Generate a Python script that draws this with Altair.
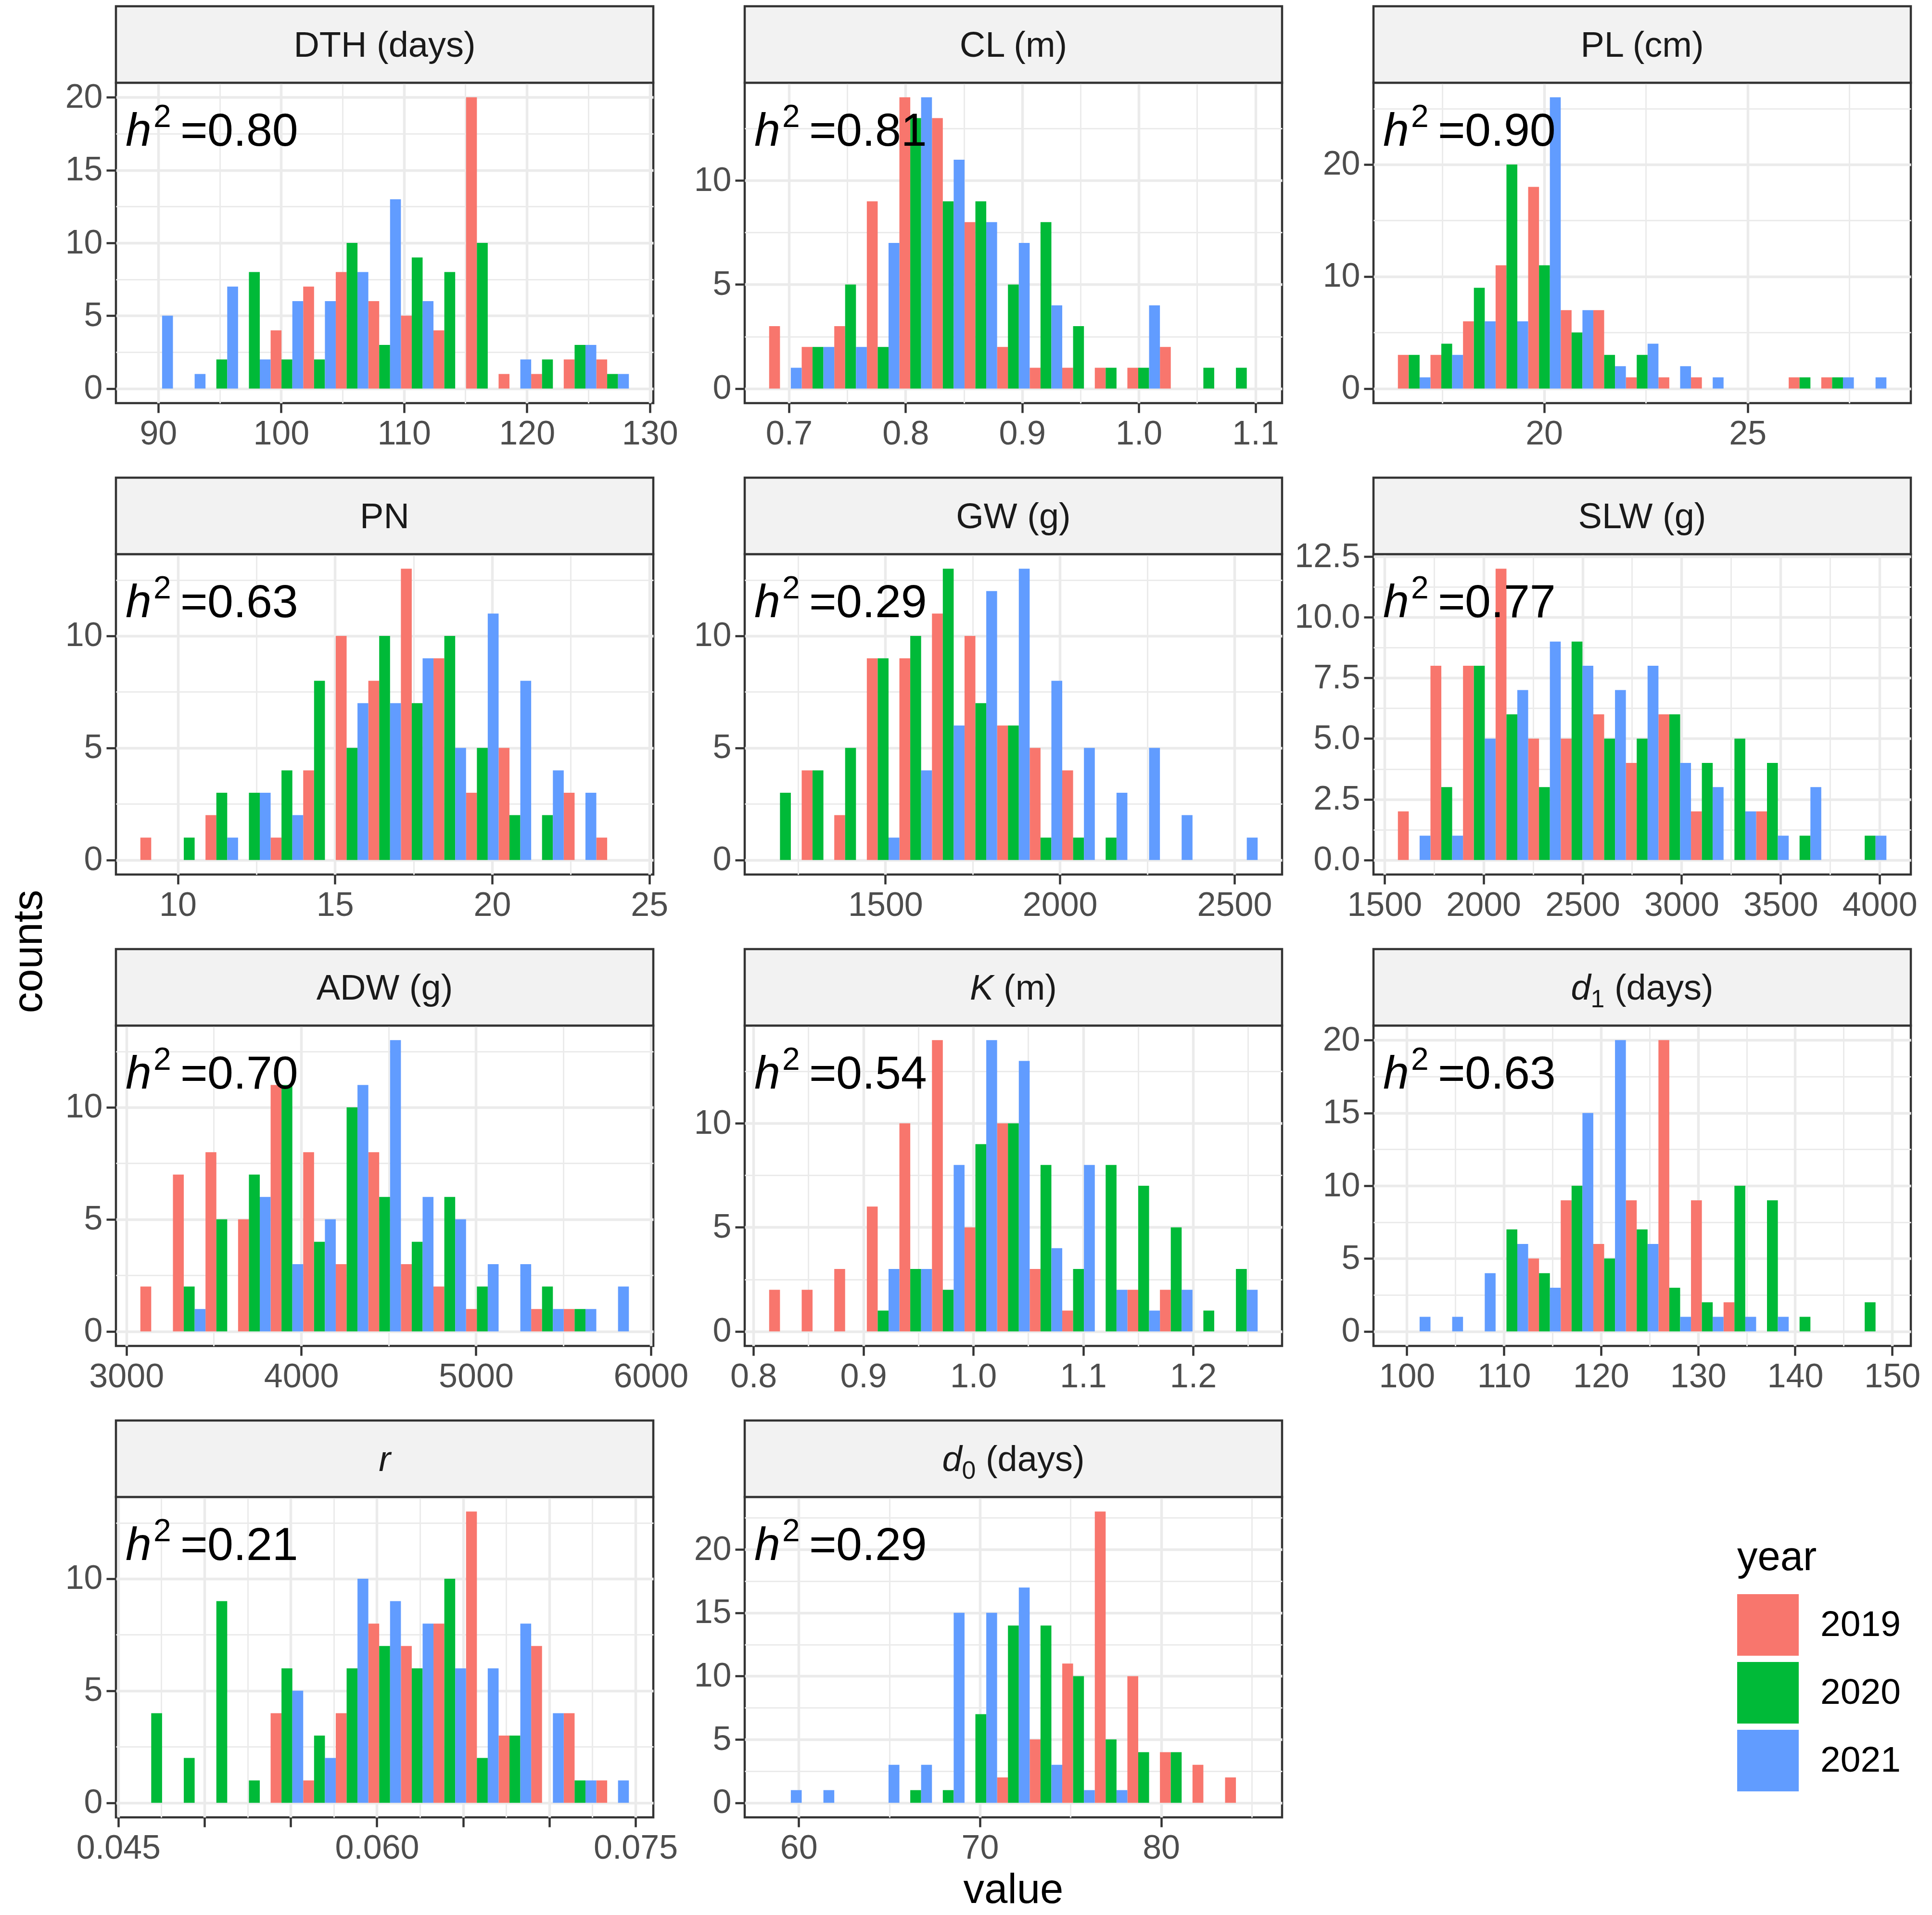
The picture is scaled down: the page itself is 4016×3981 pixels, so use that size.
import altair as alt
import pandas as pd

FONT = "Liberation Sans"

YEARS = ["2019", "2020", "2021"]
YEAR_COLORS = ["#F8766D", "#00BA38", "#619CFF"]

# heritability shown in each panel
H2 = ["0.80", "0.81", "0.90", "0.63", "0.29", "0.77", "0.70", "0.54", "0.63", "0.21", "0.29"]

# strip titles as (text, style) segments: n = normal, i = italic, s = subscript
STRIPS = [
    [("DTH (days)", "n")],
    [("CL (m)", "n")],
    [("PL (cm)", "n")],
    [("PN", "n")],
    [("GW (g)", "n")],
    [("SLW (g)", "n")],
    [("ADW (g)", "n")],
    [("K", "i"), (" (m)", "n")],
    [("d", "i"), ("1", "s"), (" (days)", "n")],
    [("r", "i")],
    [("d", "i"), ("0", "s"), (" (days)", "n")],
]

# left edge of the first bin and bin width (15 bins per panel)
BIN_START = [88.55, 0.683, 16.41, 8.81, 1167, 1568, 3080, 0.8143, 99.08, 0.04628, 58.37]
BIN_WIDTH = [2.65, 0.02793, 0.8, 1.036, 93.3, 164.4, 186.3, 0.02963, 3.355, 0.001889, 1.797]

COUNTS_2019 = [
    [0, 0, 0, 0, 4, 7, 8, 6, 5, 4, 20, 1, 1, 2, 2],
    [3, 2, 3, 9, 14, 13, 8, 2, 1, 1, 1, 1, 2, 0, 0],
    [3, 3, 6, 11, 18, 7, 7, 1, 1, 1, 0, 0, 1, 1, 0],
    [1, 0, 2, 0, 1, 4, 10, 8, 13, 9, 3, 5, 0, 3, 1],
    [0, 4, 2, 9, 9, 11, 10, 6, 5, 4, 0, 0, 0, 0, 0],
    [2, 8, 8, 12, 5, 5, 6, 4, 6, 2, 0, 2, 0, 0, 0],
    [2, 7, 8, 5, 11, 8, 3, 8, 3, 2, 1, 0, 1, 1, 0],
    [2, 2, 3, 6, 10, 14, 5, 10, 3, 1, 0, 2, 2, 0, 0],
    [0, 0, 0, 0, 5, 9, 6, 9, 20, 9, 2, 0, 0, 0, 0],
    [0, 0, 0, 0, 4, 1, 4, 8, 7, 8, 13, 3, 7, 4, 1],
    [0, 0, 0, 0, 0, 0, 0, 2, 5, 11, 23, 10, 4, 3, 2],
]
COUNTS_2020 = [
    [0, 0, 2, 8, 2, 2, 10, 3, 9, 8, 10, 0, 2, 3, 1],
    [0, 2, 5, 2, 13, 9, 9, 5, 8, 3, 1, 1, 0, 1, 1],
    [3, 4, 9, 20, 11, 5, 3, 3, 0, 0, 0, 0, 1, 1, 0],
    [0, 1, 3, 3, 4, 8, 5, 10, 7, 10, 5, 2, 2, 0, 0],
    [3, 4, 5, 9, 10, 13, 7, 6, 1, 1, 1, 0, 0, 0, 0],
    [0, 3, 8, 6, 3, 9, 5, 5, 6, 4, 5, 4, 1, 0, 1],
    [0, 2, 5, 7, 11, 4, 10, 6, 4, 6, 2, 0, 2, 1, 0],
    [0, 0, 0, 1, 3, 2, 9, 10, 8, 3, 8, 7, 5, 1, 3],
    [0, 0, 0, 7, 4, 10, 5, 7, 3, 2, 10, 9, 1, 0, 2],
    [4, 2, 9, 1, 6, 3, 6, 7, 6, 10, 2, 3, 0, 1, 0],
    [0, 0, 0, 0, 1, 1, 7, 14, 14, 10, 5, 4, 4, 0, 0],
]
COUNTS_2021 = [
    [5, 1, 7, 2, 6, 6, 8, 13, 6, 0, 0, 2, 0, 3, 1],
    [1, 2, 2, 7, 14, 11, 8, 7, 4, 0, 0, 4, 0, 0, 0],
    [1, 3, 6, 6, 26, 7, 2, 4, 2, 1, 0, 0, 0, 1, 1],
    [0, 0, 1, 3, 2, 0, 7, 7, 9, 5, 11, 8, 4, 3, 0],
    [0, 0, 0, 1, 4, 6, 12, 13, 8, 5, 3, 5, 2, 0, 1],
    [1, 1, 5, 7, 9, 8, 7, 8, 4, 3, 2, 1, 3, 0, 1],
    [0, 1, 0, 6, 3, 5, 11, 13, 6, 5, 3, 3, 1, 1, 2],
    [0, 0, 0, 3, 3, 8, 14, 13, 4, 8, 2, 1, 2, 0, 2],
    [1, 1, 4, 6, 3, 15, 20, 6, 1, 1, 1, 1, 0, 0, 0],
    [0, 0, 0, 0, 5, 2, 10, 9, 8, 6, 6, 8, 4, 1, 1],
    [1, 1, 0, 3, 3, 15, 15, 17, 3, 1, 1, 0, 0, 0, 0],
]

X_TICKS = [
    [90, 100, 110, 120, 130],
    [0.7, 0.8, 0.9, 1.0, 1.1],
    [20, 25],
    [10, 15, 20, 25],
    [1500, 2000, 2500],
    [1500, 2000, 2500, 3000, 3500, 4000],
    [3000, 4000, 5000, 6000],
    [0.8, 0.9, 1.0, 1.1, 1.2],
    [100, 110, 120, 130, 140, 150],
    [0.045, 0.050, 0.055, 0.060, 0.065, 0.070, 0.075],
    [60, 70, 80],
]
X_LABELED = [None, None, None, None, None, None, None, None, None,
             ["0.045", "0.060", "0.075"], None]
X_FORMAT = ["d", ".1f", "d", "d", "d", "d", "d", ".1f", "d", ".3f", "d"]

Y_TICKS = [
    [0, 5, 10, 15, 20],
    [0, 5, 10],
    [0, 10, 20],
    [0, 5, 10],
    [0, 5, 10],
    [0, 2.5, 5, 7.5, 10, 12.5],
    [0, 5, 10],
    [0, 5, 10],
    [0, 5, 10, 15, 20],
    [0, 5, 10],
    [0, 5, 10, 15, 20],
]
Y_FORMAT = ["d", "d", "d", "d", "d", ".1f", "d", "d", "d", "d", "d"]

# ---------------------------------------------------------------- layout
W, H, SH = 1117, 666, 159
COL_GAP, ROW_GAP = 190, 314
TICK_FS, STRIP_FS, ANN_FS, TITLE_FS = 70, 74, 97, 87

CHAR_W = {' ': 278, '(': 333, ')': 333, 'a': 556, 'd': 556, 'y': 500, 's': 500,
          'm': 833, 'K': 667, 'r': 333, '0': 556, '1': 556}

ONE = pd.DataFrame({"k": [0]})


def minor_breaks(major, lo, hi):
    step = major[1] - major[0]
    cand = [major[0] - step / 2] + [(a + b) / 2 for a, b in zip(major[:-1], major[1:])] + [major[-1] + step / 2]
    return [round(v, 7) for v in cand if lo <= v <= hi]


def txt(s, x, y, size, style="normal", align="left", baseline="alphabetic",
        color="black", angle=0):
    return alt.Chart(ONE).mark_text(
        text=s, align=align, baseline=baseline, fontSize=size, fontStyle=style,
        font=FONT, color=color, angle=angle
    ).encode(x=alt.value(x), y=alt.value(y))


def seg_w(s, size):
    return sum(CHAR_W.get(ch, 556) for ch in s) / 1000.0 * size


def panel(i):
    series = [COUNTS_2019[i], COUNTS_2020[i], COUNTS_2021[i]]
    bw = BIN_WIDTH[i]
    rows = []
    for k, (yr, cnt) in enumerate(zip(YEARS, series)):
        for b, c in enumerate(cnt):
            if c > 0:
                lo = BIN_START[i] + b * bw + k * bw / 3
                rows.append({"lo": lo, "hi": lo + bw / 3, "count": c, "year": yr})
    df = pd.DataFrame(rows)

    x0 = BIN_START[i]
    x1 = x0 + len(series[0]) * bw
    pad = 0.05 * (x1 - x0)
    xdom = [x0 - pad, x1 + pad]
    ymax = max(max(s) for s in series)
    ydom = [-0.05 * ymax, 1.05 * ymax]

    xaxis_kw = dict(values=X_TICKS[i], format=X_FORMAT[i], title=None, grid=True,
                    gridColor="#ebebeb", gridWidth=5.5, labelFlush=False,
                    labelOverlap=False)
    if X_LABELED[i] is not None:
        arr = "[" + ",".join("'%s'" % v for v in X_LABELED[i]) + "]"
        xaxis_kw["labelExpr"] = "indexof(%s, datum.label) >= 0 ? datum.label : ''" % arr

    bars = alt.Chart(df).mark_bar().encode(
        x=alt.X("lo:Q", scale=alt.Scale(domain=xdom, nice=False, zero=False),
                axis=alt.Axis(**xaxis_kw)),
        x2="hi:Q",
        y=alt.Y("count:Q", stack=None,
                scale=alt.Scale(domain=ydom, nice=False, zero=False),
                axis=alt.Axis(values=Y_TICKS[i], format=Y_FORMAT[i], title=None,
                              grid=True, gridColor="#ebebeb", gridWidth=5.5,
                              labelFlush=False, labelOverlap=False)),
        y2=alt.datum(0),
        color=alt.Color(
            "year:N",
            scale=alt.Scale(domain=YEARS, range=YEAR_COLORS),
            legend=alt.Legend(
                title="year", orient="none", legendX=3370, legendY=3025,
                symbolType="square", symbolSize=16384, symbolStrokeWidth=0,
                symbolOpacity=1, labelFontSize=75, titleFontSize=85,
                labelFont=FONT, titleFont=FONT, titleFontWeight="normal",
                titleColor="black", labelColor="black", rowPadding=13,
                labelOffset=45, titlePadding=32, labelLimit=0,
            ),
        ),
    )

    minor = alt.Chart(df).mark_point(opacity=0).encode(
        x=alt.X("lo:Q", axis=alt.Axis(values=minor_breaks(X_TICKS[i], *xdom),
                                      grid=True, gridColor="#ebebeb", gridWidth=3,
                                      labels=False, ticks=False, domain=False,
                                      title=None)),
        y=alt.Y("count:Q", axis=alt.Axis(values=minor_breaks(Y_TICKS[i], *ydom),
                                         grid=True, gridColor="#ebebeb", gridWidth=3,
                                         labels=False, ticks=False, domain=False,
                                         title=None)),
    )

    strip = alt.Chart(ONE).mark_rect(
        fill="#f2f2f2", stroke="#333333", strokeWidth=4.5
    ).encode(x=alt.value(0), x2=alt.value(W), y=alt.value(-SH), y2=alt.value(0))

    layers = [bars, minor, strip]

    # strip title
    segs = STRIPS[i]
    base_y = -54
    if len(segs) == 1:
        s, st = segs[0]
        layers.append(txt(s, W / 2, base_y, STRIP_FS,
                          style="italic" if st == "i" else "normal",
                          align="center", color="#1a1a1a"))
    else:
        sub_fs = STRIP_FS * 0.7
        widths = [seg_w(s, sub_fs if st == "s" else STRIP_FS) for s, st in segs]
        cx = W / 2 - sum(widths) / 2
        for (s, st), w in zip(segs, widths):
            fs = sub_fs if st == "s" else STRIP_FS
            lead = len(s) - len(s.lstrip(" "))
            sx = cx + seg_w(" " * lead, fs)
            s2 = s.lstrip(" ")
            if st == "s":
                layers.append(txt(s2, sx, base_y + 16, sub_fs, color="#1a1a1a"))
            else:
                layers.append(txt(s2, sx, base_y, STRIP_FS,
                                  style="italic" if st == "i" else "normal",
                                  color="#1a1a1a"))
            cx += w

    # h^2 annotation
    layers.append(txt("h", 20, 131, ANN_FS, style="italic"))
    layers.append(txt("2", 78, 92, 66))
    layers.append(txt("=", 134, 131, ANN_FS))
    layers.append(txt(H2[i], 190, 131, ANN_FS))

    if i == 0:
        layers.append(txt("counts", -180, 1806, TITLE_FS, align="center",
                          baseline="middle", angle=270))
        layers.append(txt("value", (3 * W + 2 * COL_GAP) / 2,
                          4 * H + 3 * ROW_GAP + 178, TITLE_FS, align="center"))

    return alt.layer(*layers).resolve_axis(x="independent", y="independent").properties(
        width=W, height=H)


panels = [panel(i) for i in range(len(STRIPS))]

chart = alt.concat(
    *panels, columns=3, spacing={"row": ROW_GAP, "column": COL_GAP}, bounds="flush"
).resolve_scale(color="shared").properties(
    padding={"left": 6, "top": 0, "right": 0, "bottom": 4}
).configure(font=FONT).configure_view(
    stroke="#333333", strokeWidth=4.5
).configure_axis(
    labelFont=FONT, labelFontSize=TICK_FS, labelColor="#4d4d4d",
    tickColor="#333333", tickWidth=4.5, tickSize=20, domain=False,
).configure_axisX(labelPadding=10).configure_axisY(labelPadding=8)

chart.save("out.html", embed_options={"renderer": "svg", "actions": False})
